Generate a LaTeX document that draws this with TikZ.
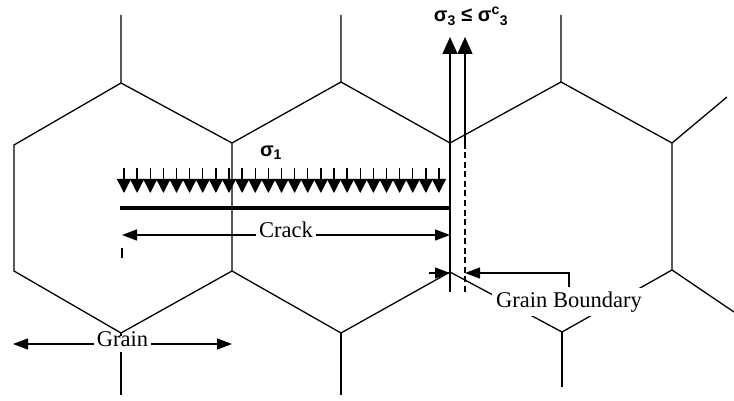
\documentclass[tikz,border=0pt]{standalone}
\usepackage{fontspec}
\setmainfont{Liberation Serif}
\setsansfont{Liberation Sans}
\usetikzlibrary{arrows.meta}

\begin{document}
\begin{tikzpicture}[x=1pt, y=-1pt, line width=1.3pt,
    >={Triangle[length=15pt,width=11pt]},
    every node/.style={font=\fontsize{22.5}{26}\selectfont},
    dimlabel/.style={fill=white, inner sep=3pt, text height=0.7em, text depth=0.25em},
    sigma/.style={font=\sffamily\bfseries\fontsize{20}{23}\selectfont, inner sep=1pt},
    load/.style={-{Triangle[length=14pt,width=14pt]}},
    pull/.style={-{Triangle[length=17pt,width=15pt]}}]
  \useasboundingbox (0,0) rectangle (734,401);
  \draw (121,15) -- (121,83) -- (14,145) -- (14,271) -- (121,333) -- (232,271) -- (232,143) -- (121,83);
  \draw (121,333) -- (121,395);
  \draw (341,15) -- (341,82) -- (232,143);
  \draw (341,82) -- (450,143) -- (450,272) -- (341,333) -- (232,271);
  \draw (341,333) -- (341,395);
  \draw (561,15) -- (561,82) -- (450,143);
  \draw (561,82) -- (672,143) -- (672,270) -- (562,332) -- (450,272);
  \draw (672,143) -- (727,97);
  \draw (672,270) -- (734,312);
  \draw (562,332) -- (562,387);
  \foreach \i in {0,...,24}
    \draw[load] (124+\i*13.125,168) -- (124+\i*13.125,193);
  \node[sigma] (sigone) at (271,153) {σ\textsubscript{1}};
  \draw[line width=3.8pt] (120,208) -- (450,208);
  \coordinate (crackL) at (122,235);
  \coordinate (crackR) at (450,235);
  \draw[<->] (crackL) -- node[dimlabel] (crack) {Crack} (crackR);
  \draw (122,248) -- (122,258);
  \coordinate (edge) at (450,292);
  \coordinate (shift) at (465,292);
  \coordinate (edgetop) at (450,37);
  \coordinate (shifttop) at (465,37);
  \draw[pull] (edge) -- (edgetop);
  \draw[pull] (465,143) -- (shifttop);
  \draw[dashed, dash pattern=on 6pt off 3.5pt] (465,143) -- (shift);
  \node[sigma] (sigthree) at (471,16) {σ\textsubscript{3} ≤ σ\textsuperscript{c}\textsubscript{3}};
  \coordinate (gbL) at (450,273);
  \coordinate (gbR) at (465,273);
  \draw[->] (429,273) -- (gbL);
  \node[fill=white, inner sep=4pt] (gb) at (569,302) {Grain Boundary};
  \draw[->] (gb.north) |- (gbR);
  \coordinate (grainL) at (13,344);
  \coordinate (grainR) at (232,344);
  \draw[<->] (grainL) -- node[dimlabel] (grain) {Grain} (grainR);
\end{tikzpicture}
\end{document}
